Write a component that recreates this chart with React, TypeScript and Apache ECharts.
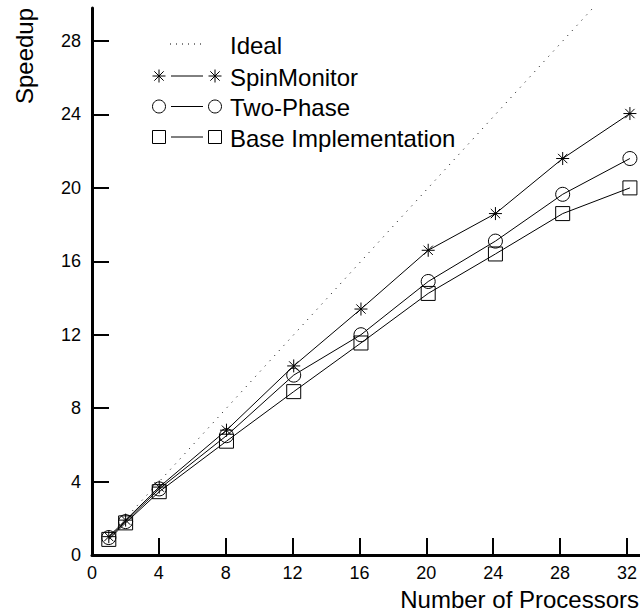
import React, { useEffect, useRef } from "react";
import * as echarts from "echarts";

const processors = [1, 2, 4, 8, 12, 16, 20, 24, 28, 32];
const idealX = [1, 32];
const idealY = [1, 32];
const spinMonitor = [1.0, 1.9, 3.7, 6.8, 10.3, 13.4, 16.6, 18.6, 21.6, 24.05];
const twoPhase = [0.95, 1.82, 3.6, 6.5, 9.8, 12.0, 14.9, 17.1, 19.65, 21.6];
const baseImpl = [0.85, 1.75, 3.45, 6.2, 8.9, 11.55, 14.25, 16.4, 18.6, 20.0];
const legendLabels = ["Ideal", "SpinMonitor", "Two-Phase", "Base Implementation"];

const FONT = "Liberation Sans, Arial, sans-serif";
const STAR = "path://M7,0L7,14M0,7L14,7M2,2L12,12M2,12L12,2";
const AXIS_COLOR = "#010101";
const TICK_COLOR = "#020202";
const LABEL_COLOR = "#030303";

function starGraphic(cx: number, cy: number, r: number) {
  const d = r * 0.72;
  const st = { stroke: "#000", lineWidth: 1 };
  return {
    type: "group",
    children: [
      { type: "line", shape: { x1: cx, y1: cy - r, x2: cx, y2: cy + r }, style: st },
      { type: "line", shape: { x1: cx - r, y1: cy, x2: cx + r, y2: cy }, style: st },
      { type: "line", shape: { x1: cx - d, y1: cy - d, x2: cx + d, y2: cy + d }, style: st },
      { type: "line", shape: { x1: cx - d, y1: cy + d, x2: cx + d, y2: cy - d }, style: st },
    ],
  };
}

function markerGraphic(kind: string, cx: number, cy: number) {
  if (kind === "star") return starGraphic(cx, cy, 6.5);
  if (kind === "circle")
    return { type: "circle", shape: { cx, cy, r: 6.5 }, style: { fill: "none", stroke: "#000", lineWidth: 1 } };
  return {
    type: "rect",
    shape: { x: cx - 6.5, y: cy - 6.5, width: 13, height: 13 },
    style: { fill: "none", stroke: "#000", lineWidth: 1 },
  };
}

export default function App() {
  const ref = useRef<HTMLDivElement>(null);
  useEffect(() => {
    if (!ref.current) return;
    const chart = echarts.init(ref.current, undefined, { renderer: "svg" });
    const mk = (ys: number[]) => processors.map((p, i) => [p, ys[i]]);
    const lineSeries = (name: string, ys: number[], symbol: string, size: number) => ({
      name,
      type: "line",
      data: mk(ys),
      symbol,
      symbolSize: size,
      showAllSymbol: true,
      lineStyle: { color: "#000", width: 1 },
      itemStyle: { color: "rgba(0,0,0,0)", borderColor: "#000", borderWidth: 1 },
      emphasis: { disabled: true },
      z: 3,
    });

    const rows = [44, 76, 106.5, 137];
    const kinds = ["ideal", "star", "circle", "rect"];
    const legendGraphics: any[] = [];
    rows.forEach((y, i) => {
      if (kinds[i] === "ideal") {
        legendGraphics.push({
          type: "line",
          shape: { x1: 170, y1: y, x2: 201, y2: y },
          style: { stroke: "#000", lineWidth: 1, lineDash: [1, 5] },
        });
      } else {
        legendGraphics.push(markerGraphic(kinds[i], 159, y));
        legendGraphics.push({
          type: "line",
          shape: { x1: 171, y1: y, x2: 203, y2: y },
          style: { stroke: "#000", lineWidth: 1 },
        });
        legendGraphics.push(markerGraphic(kinds[i], 215, y));
      }
      legendGraphics.push({
        type: "text",
        x: 230,
        y: y + 1,
        style: {
          text: legendLabels[i],
          font: `24px ${FONT}`,
          fill: "#000",
          verticalAlign: "middle",
          align: "left",
        },
      });
    });

    const W = 640, H = 613, left = 92, top = 8, bottom = 58;
    const xMax = 32.6, yMax = 29.8;
    const pxPerX = (W - left) / xMax;
    const pxPerY = (H - top - bottom) / yMax;
    const tickRight = W - left - 32 * pxPerX;
    const tickTop = H - bottom - 28 * pxPerY;

    chart.setOption({
      animation: false,
      grid: [
        { left, top, right: 0, bottom },
        { left, top: tickTop, right: tickRight, bottom },
      ],
      xAxis: [
        {
          gridIndex: 0,
          type: "value",
          min: 0,
          max: xMax,
          axisLine: { show: true, lineStyle: { color: AXIS_COLOR, width: 3 } },
          axisTick: { show: false },
          axisLabel: { show: false },
          splitLine: { show: false },
        },
        {
          gridIndex: 1,
          type: "value",
          min: 0,
          max: 32,
          interval: 4,
          axisLine: { show: false },
          axisTick: { show: true, inside: true, length: 17, lineStyle: { color: TICK_COLOR, width: 2 } },
          axisLabel: { color: LABEL_COLOR, fontSize: 18, fontFamily: FONT, margin: 9 },
          splitLine: { show: false },
        },
      ],
      yAxis: [
        {
          gridIndex: 0,
          type: "value",
          min: 0,
          max: yMax,
          axisLine: { show: true, lineStyle: { color: AXIS_COLOR, width: 3 } },
          axisTick: { show: false },
          axisLabel: { show: false },
          splitLine: { show: false },
        },
        {
          gridIndex: 1,
          type: "value",
          min: 0,
          max: 28,
          interval: 4,
          axisLine: { show: false },
          axisTick: { show: true, inside: true, length: 17, lineStyle: { color: TICK_COLOR, width: 2 } },
          axisLabel: { color: LABEL_COLOR, fontSize: 18, fontFamily: FONT, margin: 11 },
          splitLine: { show: false },
        },
      ],
      series: [
        {
          name: "Ideal",
          type: "line",
          xAxisIndex: 0,
          yAxisIndex: 0,
          data: idealX.map((x, i) => [x, idealY[i]]),
          symbol: "none",
          lineStyle: { color: "#000", width: 1, type: [1, 6] },
          emphasis: { disabled: true },
          clip: true,
          z: 2,
        },
        lineSeries("SpinMonitor", spinMonitor, STAR, 13),
        lineSeries("Two-Phase", twoPhase, "circle", 14),
        lineSeries("Base Implementation", baseImpl, "rect", 14),
      ],
      graphic: [
        ...legendGraphics,
        {
          type: "text",
          x: 24,
          y: 56,
          rotation: Math.PI / 2,
          style: { text: "Speedup", font: `24px ${FONT}`, fill: "#000", align: "center", verticalAlign: "middle" },
        },
        {
          type: "text",
          x: 639,
          y: 599,
          style: { text: "Number of Processors", font: `24px ${FONT}`, fill: "#000", align: "right", verticalAlign: "middle" },
        },
      ],
    });
    return () => chart.dispose();
  }, []);
  return (
    <div
      ref={ref}
      style={{ position: "fixed", left: 0, top: 0, width: 640, height: 613, background: "#fff" }}
    />
  );
}
